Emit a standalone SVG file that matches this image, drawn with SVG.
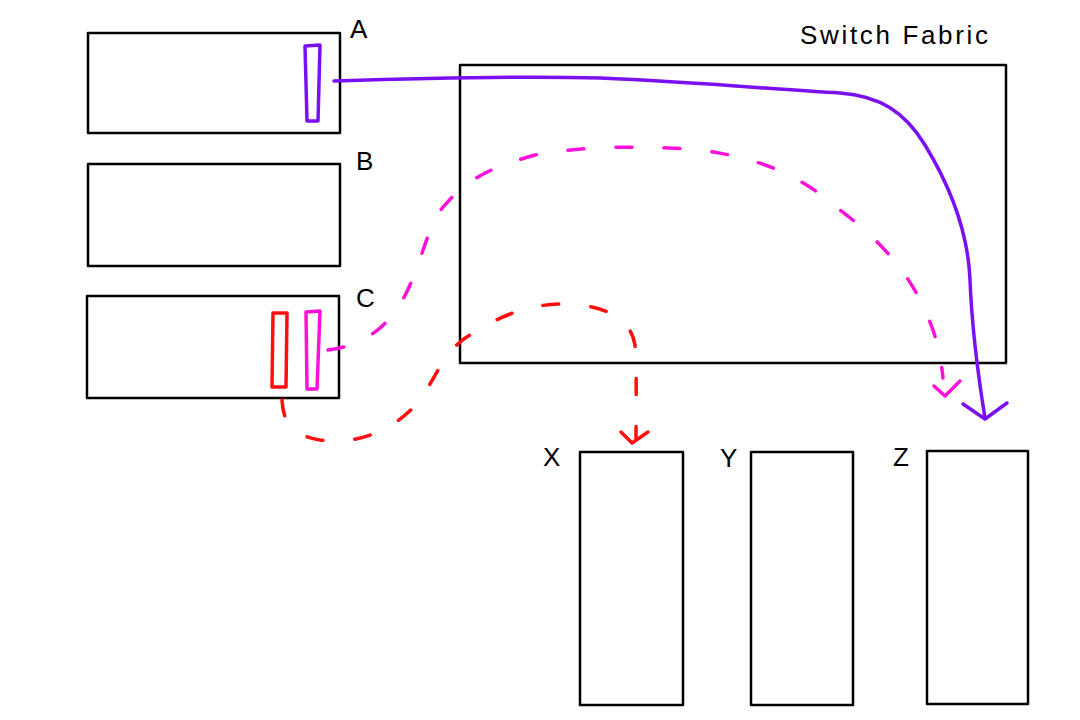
<svg xmlns="http://www.w3.org/2000/svg" width="1080" height="720" viewBox="0 0 1080 720">
<style>
.box{fill:none;stroke:#000;stroke-width:2.5;stroke-linejoin:round}
.lbl{font-family:"Liberation Sans",Arial,sans-serif;font-size:26px;fill:#000}
.pur{fill:none;stroke:#7a0ff0;stroke-width:3.5;stroke-linecap:round;stroke-linejoin:round}
.mag{fill:none;stroke:#ff10d8;stroke-width:3.5;stroke-linecap:round;stroke-linejoin:round}
.red{fill:none;stroke:#ff0f0f;stroke-width:3.5;stroke-linecap:round;stroke-linejoin:round}
.dash{stroke-dasharray:16 32}
</style>
<rect width="1080" height="720" fill="#fff"/>
<g id="fabric">
<rect class="box" x="460" y="65" width="546" height="298"/>
<text class="lbl" x="800" y="44" font-size="28" textLength="188" lengthAdjust="spacing">Switch Fabric</text>
</g>
<g id="A">
<rect class="box" x="88" y="33" width="252" height="100"/>
<text class="lbl" x="350" y="38">A</text>
<path class="pur" d="M305 46 L320 45 L318 121 L307 121 Z"/>
</g>
<g id="B">
<rect class="box" x="88" y="164" width="252" height="102"/>
<text class="lbl" x="356" y="170">B</text>
</g>
<g id="C">
<rect class="box" x="87" y="296" width="252" height="102"/>
<text class="lbl" x="356" y="307">C</text>
<path class="red" d="M273 313 L287 313 L286 387 L272 387 Z"/>
<path class="mag" d="M306 312 L320 311 L317 389 L307 389 Z"/>
</g>
<g id="X">
<rect class="box" x="580" y="452" width="103" height="253"/>
<text class="lbl" x="543" y="466">X</text>
</g>
<g id="Y">
<rect class="box" x="751" y="452" width="102" height="253"/>
<text class="lbl" x="720" y="467">Y</text>
</g>
<g id="Z">
<rect class="box" x="927" y="451" width="101" height="253"/>
<text class="lbl" x="893" y="466">Z</text>
</g>
<g id="connectors">
<path class="pur" d="M334 81 C430 78 520 76 600 78 C700 82 780 90 840 93 C880 96 905 112 925 145 C950 186 968 230 970 280 C972 330 978 375 985 418"/>
<path class="pur" d="M963 404 L985 419 L1007 403"/>
<path class="mag dash" d="M328 350 C370 345 395 320 410 285 C425 250 430 220 445 205 C470 175 500 165 535 155 C590 145 650 146 700 150 C760 158 800 175 840 210 C880 240 905 270 920 300 C935 330 940 350 943 378"/>
<path class="mag" d="M934 386 L945 396 L960 381"/>
<path class="red dash" d="M282 400 C283 420 290 435 320 440 C360 445 395 430 420 400 C440 370 445 350 470 335 C495 320 520 305 560 304 C600 304 630 315 635 345 C637 380 636 410 636 438"/>
<path class="red" d="M621 432 L632 443 L648 432"/>
</g>
</svg>
